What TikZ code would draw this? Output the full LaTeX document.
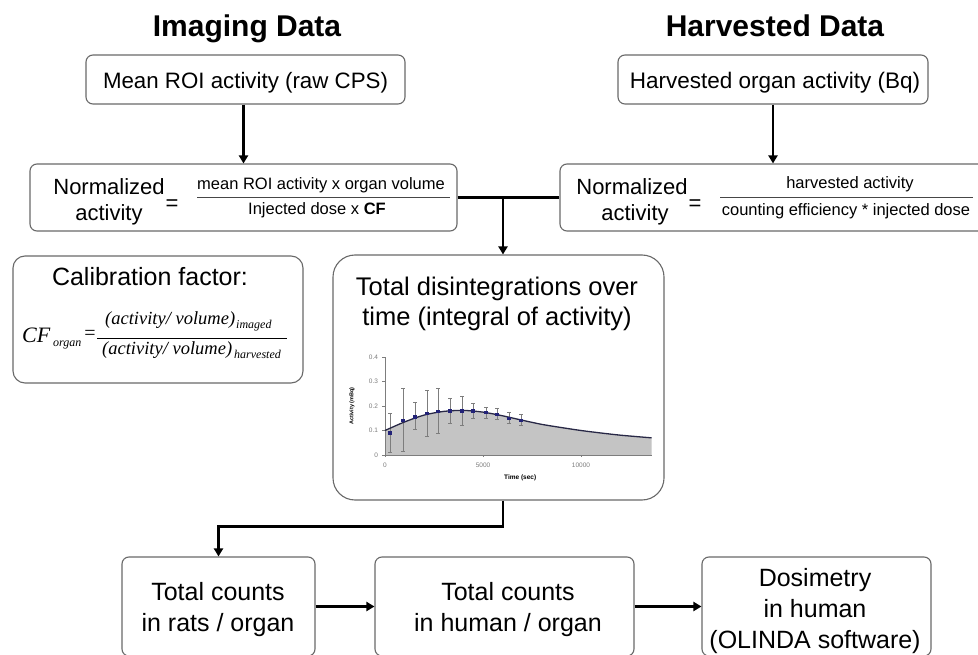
\documentclass[tikz,border=0pt]{standalone}
\usepackage{fontspec}
\setmainfont{Liberation Sans}
\newfontfamily\tnr{Liberation Serif}
\usetikzlibrary{arrows.meta}
\definecolor{boxgray}{RGB}{105,105,105}
\definecolor{plotfill}{RGB}{196,196,196}
\definecolor{curvecol}{RGB}{40,40,70}
\definecolor{errgray}{RGB}{125,125,125}
\definecolor{ptblue}{RGB}{35,35,120}
\definecolor{fracgray}{RGB}{70,70,70}
\newcommand{\fsz}[1]{\fontsize{#1}{#1}\selectfont}
\begin{document}
\begin{tikzpicture}[x=1pt,y=-1pt,
  box/.style={draw=boxgray,line width=1.1pt,rounded corners=7pt,inner sep=0pt},
  arr/.style={line width=2.4pt,-{Triangle[length=8pt,width=9pt]}},
  conn/.style={line width=2.4pt},
  txt/.style={inner sep=0pt,anchor=base},
  fracline/.style={draw=fracgray,line width=1pt},
  ticklab/.style={inner sep=0pt,text=errgray,font=\fsz{6.5}},
]
\useasboundingbox (0,0) rectangle (978,655);
\clip (0,0) rectangle (978,655);
\fill[white] (0,0) rectangle (978,655);

% titles
\node[txt] (t1) at (247,37) {\fsz{30}\bfseries Imaging Data};
\node[txt] (t2) at (775,37) {\fsz{30}\bfseries Harvested Data};

% top boxes
\node[box,minimum width=319pt,minimum height=49pt] (m1) at (245.5,79.5) {};
\node[txt] (m1t) at (245.5,89) {\fsz{22.3}Mean ROI activity (raw CPS)};
\node[box,minimum width=310pt,minimum height=49pt] (h1) at (773,79.5) {};
\node[txt] (h1t) at (775,89) {\fsz{22.5}Harvested organ activity (Bq)};

% normalized left
\node[box,minimum width=427pt,minimum height=67pt] (nl) at (243.5,197.5) {};
\node[txt] (nl1) at (109,195) {\fsz{22}Normalized};
\node[txt] (nl2) at (109,221) {\fsz{22}activity};
\node[inner sep=0pt] (nl3) at (172,205) {\fsz{22}=};
\node[txt] (nl4) at (321,190) {\fsz{16.5}mean ROI activity x organ volume};
\draw[fracline] (197,198) -- (450,198);
\node[txt] (nl5) at (317,215) {\fsz{16.5}Injected dose x \textbf{CF}};

% normalized right
\node[box,minimum width=426pt,minimum height=67pt] (nr) at (773,197.5) {};
\node[txt] (nr1) at (632,195) {\fsz{22}Normalized};
\node[txt] (nr2) at (635,221) {\fsz{22}activity};
\node[inner sep=0pt] (nr3) at (695,205) {\fsz{22}=};
\node[txt] (nr4) at (850,189) {\fsz{16.5}harvested activity};
\draw[fracline] (720,198) -- (973,198);
\node[txt] (nr5) at (846,216) {\fsz{16.5}counting efficiency * injected dose};

% calibration box
\node[box,rounded corners=12pt,minimum width=290pt,minimum height=127pt] (cal) at (158,319.5) {};
\node[txt] (cal1) at (150,286) {\fsz{25}Calibration factor:};
\node[txt,anchor=base west] (cf) at (22,342) {\tnr\itshape\fsz{22}CF};
\node[txt,anchor=base west] (cfs) at (53,346) {\tnr\itshape\fsz{12}organ};
\node[inner sep=0pt] (cfeq) at (90,335) {\tnr\fsz{20}=};
\draw[fracline,draw=black] (97,338) -- (287,338);
\node[txt,anchor=base west] (cfn) at (105,325) {\tnr\itshape\fsz{18.5}(activity/ volume)};
\node[txt,anchor=base west] (cfns) at (236,328) {\tnr\itshape\fsz{12}imaged};
\node[txt,anchor=base west] (cfd) at (102,355) {\tnr\itshape\fsz{18.5}(activity/ volume)};
\node[txt,anchor=base west] (cfds) at (234,358) {\tnr\itshape\fsz{12}harvested};

% total disintegrations box
\node[box,rounded corners=22pt,minimum width=331pt,minimum height=245pt] (tot) at (498.5,377.5) {};
\node[txt] (tot1) at (497,296) {\fsz{25.5}Total disintegrations over};
\node[txt] (tot2) at (497,326) {\fsz{25.5}time (integral of activity)};

% chart
\begin{scope}[shift={(385,455)},x=19.6pt,y=245pt]
  \fill[plotfill] (0,0) -- plot[smooth] coordinates {(0,0.1) (1,0.135) (2,0.163) (3,0.178) (4,0.182) (5,0.175) (6,0.16) (7,0.142) (8,0.125) (9,0.112) (10,0.1) (11,0.09) (12,0.081) (13,0.074) (13.6,0.07)} -- (13.6,0) -- cycle;
  \draw[errgray,line width=0.6pt] (0,0.4) -- (0,0) -- (13.6,0);
  \foreach \k in {0,0.1,0.2,0.3,0.4} \draw[errgray,line width=0.6pt] (-0.15,\k) -- (0,\k);
  \foreach \k in {0,5,10} \draw[errgray,line width=0.6pt] (\k,0) -- (\k,-0.008);
  \node[ticklab,anchor=east] (yl0) at (-0.35,0) {0};
  \node[ticklab,anchor=east] (yl1) at (-0.35,0.1) {0.1};
  \node[ticklab,anchor=east] (yl2) at (-0.35,0.2) {0.2};
  \node[ticklab,anchor=east] (yl3) at (-0.35,0.3) {0.3};
  \node[ticklab,anchor=east] (yl4) at (-0.35,0.4) {0.4};
  \node[ticklab] (xl0) at (0,-0.041) {0};
  \node[ticklab] (xl1) at (5,-0.041) {5000};
  \node[ticklab] (xl2) at (10,-0.041) {10000};
  \node[inner sep=0pt,rotate=90,font=\fsz{5.5}\bfseries] (ylab) at (-1.68,0.2) {Activity (mBq)};
  \node[inner sep=0pt,font=\fsz{6.5}\bfseries] (xlab) at (6.9,-0.094) {Time (sec)};
  \foreach \t/\a/\lo/\hi in {0.25/0.09/0.01/0.17, 0.92/0.14/0.015/0.27, 1.53/0.155/0.105/0.215, 2.14/0.168/0.075/0.265, 2.70/0.178/0.09/0.27, 3.32/0.18/0.13/0.232, 3.93/0.18/0.12/0.24, 4.49/0.18/0.15/0.21, 5.15/0.175/0.15/0.195, 5.71/0.165/0.145/0.19, 6.33/0.15/0.13/0.175, 6.94/0.14/0.12/0.165}{
    \draw[errgray,line width=0.7pt] (\t,\lo) -- (\t,\hi);
    \draw[errgray,line width=0.7pt] ({\t-0.09},\lo) -- ({\t+0.09},\lo);
    \draw[errgray,line width=0.7pt] ({\t-0.09},\hi) -- ({\t+0.09},\hi);
  }
  \draw[curvecol,line width=1.3pt] plot[smooth] coordinates {(0,0.1) (1,0.135) (2,0.163) (3,0.178) (4,0.182) (5,0.175) (6,0.16) (7,0.142) (8,0.125) (9,0.112) (10,0.1) (11,0.09) (12,0.081) (13,0.074) (13.6,0.07)};
  \foreach \t/\a in {0.25/0.09, 0.92/0.14, 1.53/0.155, 2.14/0.168, 2.70/0.178, 3.32/0.18, 3.93/0.18, 4.49/0.18, 5.15/0.175, 5.71/0.165, 6.33/0.15, 6.94/0.14}{
    \fill[ptblue] (\t,\a) +(-1.6pt,-1.6pt) rectangle +(1.6pt,1.6pt);
  }
\end{scope}

% bottom boxes
\node[box,minimum width=193pt,minimum height=99pt] (b1) at (218.5,606.5) {};
\node[txt] (b1a) at (218,600) {\fsz{25}Total counts};
\node[txt] (b1b) at (218,631) {\fsz{25}in rats / organ};
\node[box,minimum width=259pt,minimum height=99pt] (b2) at (504.5,606.5) {};
\node[txt] (b2a) at (508,600) {\fsz{25}Total counts};
\node[txt] (b2b) at (508,631) {\fsz{25}in human / organ};
\node[box,minimum width=229pt,minimum height=99pt] (b3) at (816.5,606.5) {};
\node[txt] (b3a) at (815,586) {\fsz{25}Dosimetry};
\node[txt] (b3b) at (815,617) {\fsz{25}in human};
\node[txt] (b3c) at (815,648) {\fsz{25}(OLINDA software)};

% connectors
\coordinate (j) at (503,197.5);
\draw[arr] (m1.south -| nl.north) -- (nl.north);
\draw[arr] (h1.south -| nr.north) -- (nr.north);
\draw[conn] (nl.east) -- (nr.west);
\draw[arr] (j) -- (j |- tot.north);
\draw[arr] (tot.south -| j) -- ++(0,26) -| (b1.north);
\draw[arr] (b1.east) -- (b2.west);
\draw[arr] (b2.east) -- (b3.west);
\end{tikzpicture}
\end{document}
